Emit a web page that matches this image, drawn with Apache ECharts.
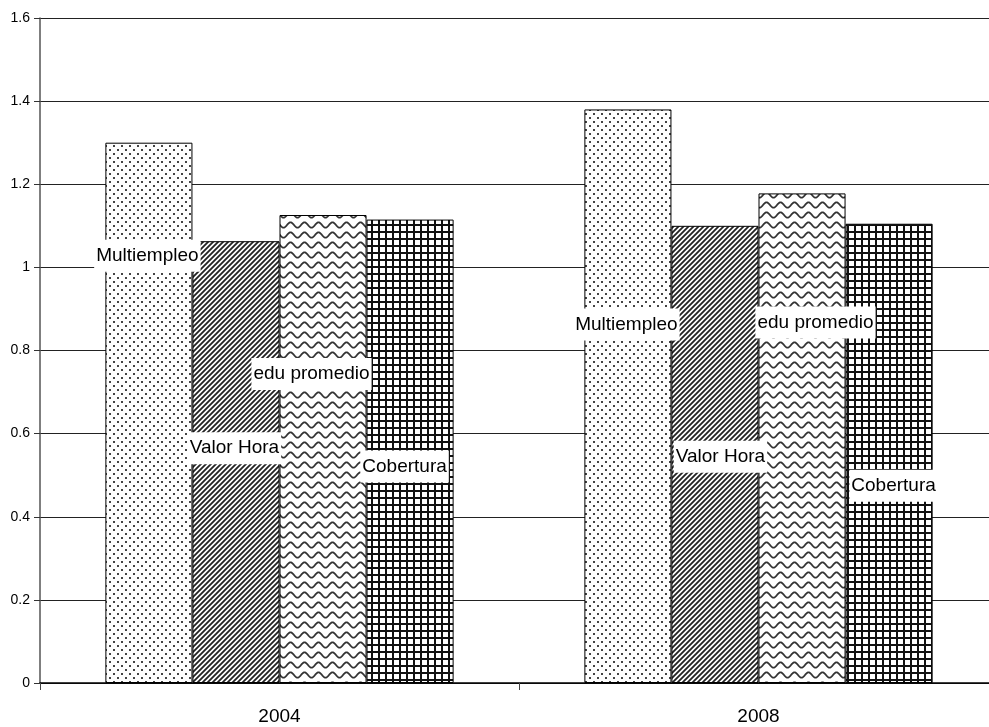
<!DOCTYPE html>
<html>
<head>
<meta charset="utf-8">
<script src="https://cdn.jsdelivr.net/npm/echarts@6/dist/echarts.min.js"></script>
<style>
html,body{margin:0;padding:0;background:#fff;overflow:hidden;width:989px;height:727px;}
#chart{width:1000px;height:727px;}
</style>
</head>
<body>
<div id="chart"></div>
<script>
// ---- data ----
var categories = ['2004', '2008'];
var seriesNames = ['Multiempleo', 'Valor Hora', 'edu promedio', 'Cobertura'];
var multiempleo = [1.30, 1.38];
var valorHora = [1.063, 1.10];
var eduPromedio = [1.126, 1.178];
var cobertura = [1.115, 1.105];

// ---- styles ----
function tile(w, h, draw) {
  var c = document.createElement('canvas');
  c.width = w; c.height = h;
  var ctx = c.getContext('2d');
  ctx.fillStyle = '#fff';
  ctx.fillRect(0, 0, w, h);
  draw(ctx, w, h);
  return { image: c, repeat: 'repeat' };
}
var dotPattern = tile(8, 8, function (ctx) {
  ctx.fillStyle = '#444';
  ctx.fillRect(1, 1, 2, 2);
  ctx.fillRect(5, 5, 2, 2);
});
var diagPattern = tile(5, 5, function (ctx, w, h) {
  ctx.strokeStyle = '#222';
  ctx.lineWidth = 1.8;
  ctx.beginPath();
  ctx.moveTo(-1, h + 1); ctx.lineTo(w + 1, -1);
  ctx.moveTo(-1, 1); ctx.lineTo(1, -1);
  ctx.moveTo(w - 1, h + 1); ctx.lineTo(w + 1, h - 1);
  ctx.stroke();
});
var wavePattern = tile(14, 10, function (ctx, w, h) {
  ctx.strokeStyle = '#333';
  ctx.lineWidth = 1.8;
  ctx.beginPath();
  for (var x = -1; x <= w + 1; x += 0.5) {
    var y = 5 + 2.6 * Math.sin(2 * Math.PI * x / w);
    if (x === -1) ctx.moveTo(x, y); else ctx.lineTo(x, y);
  }
  ctx.stroke();
});
var gridPattern = tile(7, 7, function (ctx) {
  ctx.fillStyle = '#111';
  ctx.fillRect(0, 0, 7, 2);
  ctx.fillRect(0, 0, 2, 7);
});

var patterns = [dotPattern, diagPattern, wavePattern, gridPattern];
var values = [multiempleo, valorHora, eduPromedio, cobertura];
// label centre relative to bar rect top-left, per series per category
var labelPos = [
  [[42, 113], [42, 215]],
  [[42, 207], [49, 231]],
  [[32, 159], [57, 129]],
  [[38, 247], [48, 262]]
];

var series = seriesNames.map(function (name, i) {
  return {
    name: name,
    type: 'bar',
    barGap: '0%',
    barCategoryGap: '27.3%',
    itemStyle: { color: patterns[i], borderColor: '#000', borderWidth: 1 },
    data: values[i].map(function (v, j) {
      return {
        value: v,
        label: {
          show: true,
          position: labelPos[i][j],
          align: 'center',
          verticalAlign: 'middle',
          formatter: '{a}',
          color: '#000',
          fontFamily: 'Liberation Sans, Arial, sans-serif',
          fontSize: 19,
          backgroundColor: '#fff',
          padding: [7, 2, 6, 2]
        }
      };
    }),
    emphasis: { disabled: true }
  };
});

var chart = echarts.init(document.getElementById('chart'), null, { renderer: 'canvas' });
chart.setOption({
  backgroundColor: '#fff',
  animation: false,
  grid: { left: 40, top: 18, bottom: 44, right: 2, containLabel: false },
  xAxis: {
    type: 'category',
    data: categories,
    axisLine: { lineStyle: { color: '#000', width: 1.5 } },
    axisTick: { show: true, length: 7, lineStyle: { color: '#444' } },
    axisLabel: { color: '#000', fontFamily: 'Liberation Sans, Arial, sans-serif', fontSize: 19, margin: 24 }
  },
  yAxis: {
    type: 'value',
    min: 0,
    max: 1.6,
    interval: 0.2,
    axisLine: { show: true, lineStyle: { color: '#555', width: 1.5 } },
    axisTick: { show: true, length: 6, lineStyle: { color: '#333' } },
    axisLabel: { color: '#000', fontFamily: 'Liberation Sans, Arial, sans-serif', fontSize: 14, margin: 10 },
    splitLine: { show: true, lineStyle: { color: '#222', width: 1 } }
  },
  series: series
});
</script>
</body>
</html>
